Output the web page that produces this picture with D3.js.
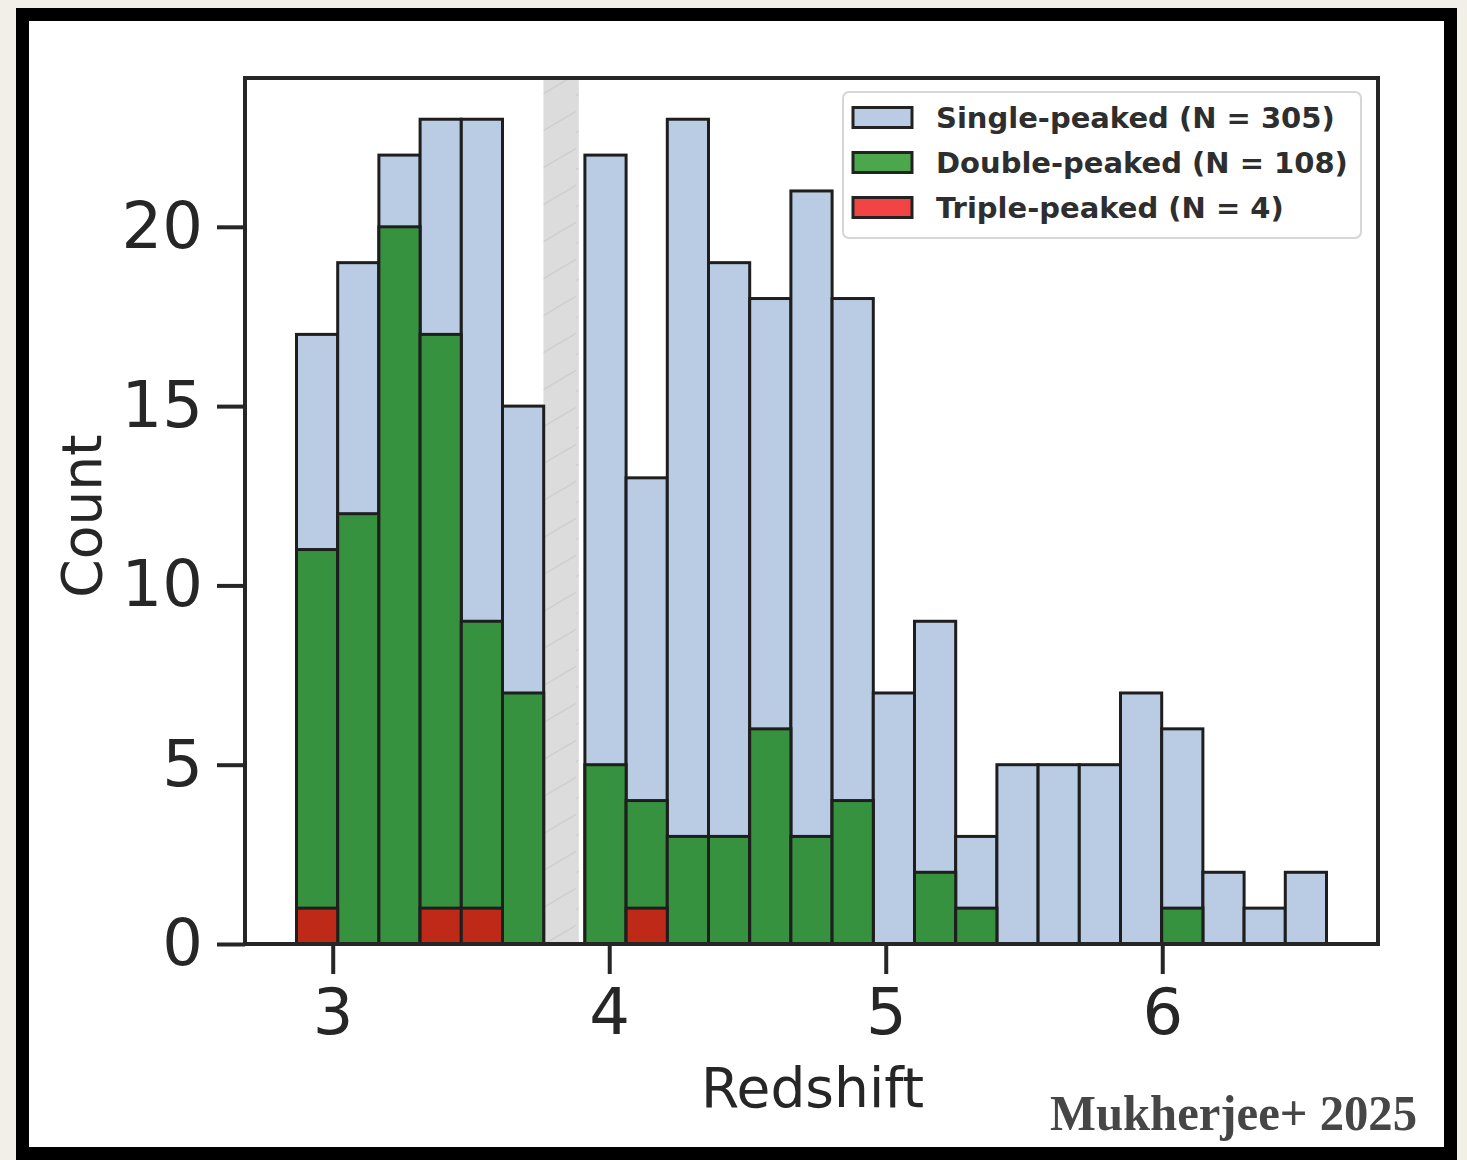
<!DOCTYPE html>
<html>
<head>
<meta charset="utf-8">
<script src="https://cdn.jsdelivr.net/npm/d3@7"></script>
<style>
  html, body { margin: 0; padding: 0; background: #f2efe9; }
  svg { display: block; }
</style>
</head>
<body>
<svg id="chart" width="1467" height="1160"></svg>
<script>
// Histogram of redshifts, one bin array per line-profile class (overlaid, not stacked)
const binStart = 2.869;
const binWidth = 0.149;
const singleCounts = [17, 19, 22, 23, 23, 15, 0, 22, 13, 23, 19, 18, 21, 18, 7, 9, 3, 5, 5, 5, 7, 6, 2, 1, 2];
const doubleCounts = [11, 12, 20, 17, 9, 7, 0, 5, 4, 3, 3, 6, 3, 4, 0, 2, 1, 0, 0, 0, 0, 1, 0, 0, 0];
const tripleCounts = [1, 0, 0, 1, 1, 0, 0, 0, 1, 0, 0, 0, 0, 0, 0, 0, 0, 0, 0, 0, 0, 0, 0, 0, 0];
const seriesNames = ["Single-peaked (N = 305)", "Double-peaked (N = 108)", "Triple-peaked (N = 4)"];
const maskedRange = [3.762, 3.890];
const xTicks = [3, 4, 5, 6];
const yTicks = [0, 5, 10, 15, 20];
const xLabel = "Redshift";
const yLabel = "Count";
const credit = "Mukherjee+ 2025";

const barColors = ["#b9cce3", "#37923f", "#bf2a18"];
const legendColors = ["#b9cce3", "#4ca64c", "#f24444"];
const ink = "#262626";

const svg = d3.select("#chart");

// outer white card with thick black frame
svg.append("rect").attr("x", 22.5).attr("y", 14.5).attr("width", 1428).attr("height", 1139)
  .attr("fill", "#ffffff").attr("stroke", "#000").attr("stroke-width", 13);

const plot = { left: 245, right: 1378, top: 78, bottom: 944 };

const nBins = singleCounts.length;
const binEnd = binStart + nBins * binWidth;
const span = binEnd - binStart;
const x = d3.scaleLinear()
  .domain([binStart - 0.05 * span, binEnd + 0.05 * span])
  .range([plot.left, plot.right]);
const yMax = d3.max([...singleCounts, ...doubleCounts, ...tripleCounts]);
const y = d3.scaleLinear().domain([0, yMax * 1.05]).range([plot.bottom, plot.top]);

// hatched grey band marking the excluded redshift interval
const defs = svg.append("defs");
const pat = defs.append("pattern").attr("id", "hatch").attr("patternUnits", "userSpaceOnUse")
  .attr("width", 36).attr("height", 37);
pat.append("rect").attr("width", 36).attr("height", 37).attr("fill", "#dcdcdc");
pat.append("path").attr("d", "M-4,24 L40,-2 M-4,61 L40,35").attr("stroke", "#cfcfcf").attr("stroke-width", 1.5);

svg.append("rect")
  .attr("x", x(maskedRange[0])).attr("y", plot.top)
  .attr("width", x(maskedRange[1]) - x(maskedRange[0]))
  .attr("height", plot.bottom - plot.top)
  .attr("fill", "url(#hatch)");

// bars, each class drawn from zero on top of the previous one
const layers = [singleCounts, doubleCounts, tripleCounts];
layers.forEach((counts, k) => {
  svg.append("g").selectAll("rect")
    .data(counts.map((c, i) => ({ c, i })).filter(d => d.c > 0))
    .join("rect")
    .attr("x", d => x(binStart + d.i * binWidth))
    .attr("y", d => y(d.c))
    .attr("width", d => x(binStart + (d.i + 1) * binWidth) - x(binStart + d.i * binWidth))
    .attr("height", d => y(0) - y(d.c))
    .attr("fill", barColors[k])
    .attr("stroke", "#1e1e1e")
    .attr("stroke-width", 3);
});

// axes
const xAxis = d3.axisBottom(x).tickValues(xTicks).tickSize(30).tickPadding(14).tickFormat(d3.format("d"));
const yAxis = d3.axisLeft(y).tickValues(yTicks).tickSize(28).tickPadding(14).tickFormat(d3.format("d"));

const gx = svg.append("g").attr("transform", `translate(0,${plot.bottom})`).call(xAxis);
const gy = svg.append("g").attr("transform", `translate(${plot.left},0)`).call(yAxis);
[gx, gy].forEach(g => {
  g.select(".domain").remove();
  g.selectAll(".tick line").attr("stroke", ink).attr("stroke-width", 4);
  g.selectAll(".tick text").attr("fill", ink)
    .style("font-family", "'DejaVu Sans', sans-serif").style("font-size", "64px");
});
gx.selectAll(".tick text").attr("dy", "0.72em");

// frame of the axes
svg.append("rect")
  .attr("x", plot.left).attr("y", plot.top)
  .attr("width", plot.right - plot.left).attr("height", plot.bottom - plot.top)
  .attr("fill", "none").attr("stroke", ink).attr("stroke-width", 4);

// axis labels
svg.append("text").attr("x", (plot.left + plot.right) / 2 + 1).attr("y", 1107)
  .attr("text-anchor", "middle").attr("fill", ink)
  .style("font-family", "'DejaVu Sans', sans-serif").style("font-size", "55px")
  .text(xLabel);
svg.append("text").attr("transform", `translate(101,${(plot.top + plot.bottom) / 2 + 5}) rotate(-90)`)
  .attr("text-anchor", "middle").attr("fill", ink)
  .style("font-family", "'DejaVu Sans', sans-serif").style("font-size", "55px")
  .text(yLabel);

// legend
const lg = svg.append("g");
lg.append("rect").attr("x", 843).attr("y", 92).attr("width", 518).attr("height", 146)
  .attr("rx", 6).attr("fill", "#ffffff").attr("fill-opacity", 0.85)
  .attr("stroke", "#d6d6d6").attr("stroke-width", 2);
seriesNames.forEach((name, k) => {
  const cy = 117.5 + k * 45;
  lg.append("rect").attr("x", 853).attr("y", cy - 10).attr("width", 59).attr("height", 20)
    .attr("fill", legendColors[k]).attr("stroke", "#222").attr("stroke-width", 3);
  lg.append("text").attr("x", 936).attr("y", cy + 10.5).attr("fill", "#2e2e2e")
    .style("font-family", "'DejaVu Sans', sans-serif").style("font-weight", "bold").style("font-size", "29px")
    .text(name);
});

// credit line
svg.append("text").attr("x", 1050).attr("y", 1130)
  .attr("textLength", 367).attr("lengthAdjust", "spacingAndGlyphs")
  .attr("fill", "#464646")
  .style("font-family", "'Liberation Serif', serif").style("font-weight", "bold").style("font-size", "50px")
  .text(credit);
</script>
</body>
</html>
